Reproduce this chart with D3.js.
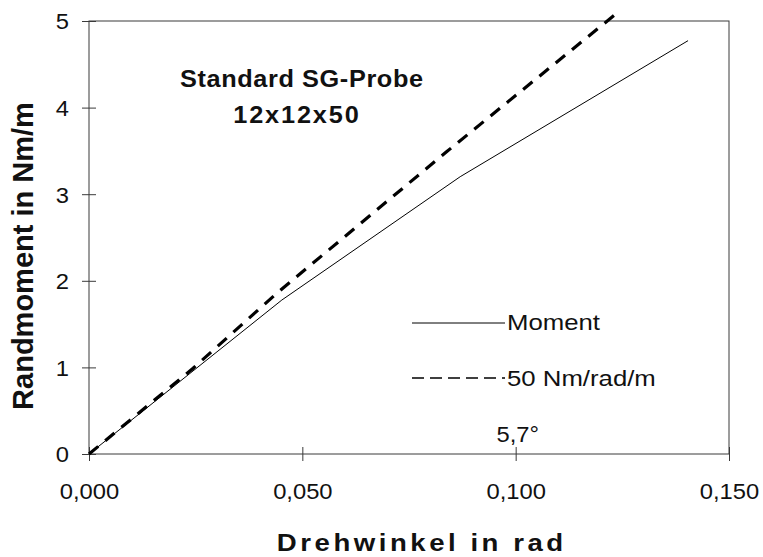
<!DOCTYPE html>
<html>
<head>
<meta charset="utf-8">
<script src="https://cdn.jsdelivr.net/npm/d3@7"></script>
<style>
  html, body { margin: 0; padding: 0; background: #fff; }
  svg { display: block; }
</style>
</head>
<body>
<svg id="chart" width="763" height="557"></svg>
<script>
// Axis ticks and labels (German decimal comma)
const xTicks = [0, 0.05, 0.10, 0.15];
const xTickLabels = ["0,000", "0,050", "0,100", "0,150"];
const yTicks = [0, 1, 2, 3, 4, 5];
const yTickLabels = ["0", "1", "2", "3", "4", "5"];

// Measured edge moment over twist angle
const momentAngle = [0, 0.0452, 0.0870, 0.1404];
const momentValue = [0, 1.778, 3.202, 4.773];

// Reference stiffness line
const stiffAngle = [0, 0.0244, 0.0440, 0.0838, 0.1242];
const stiffValue = [0, 0.99, 1.856, 3.49, 5.11];

const seriesNames = ["Moment", "50 Nm/rad/m"];
const titleLines = ["Standard SG-Probe", "12x12x50"];
const markerAngle = 0.1;
const markerLabel = "5,7°";
const xTitle = "Drehwinkel in rad";
const yTitle = "Randmoment in Nm/m";

const FONT = "'Liberation Sans', Arial, Helvetica, sans-serif";
const svg = d3.select("#chart");

const x = d3.scaleLinear().domain([0, 0.15]).range([89, 729]);
const y = d3.scaleLinear().domain([0, 5]).range([454, 21]);

// plot frame
svg.append("rect")
  .attr("x", x(0)).attr("y", y(5))
  .attr("width", x(0.15) - x(0)).attr("height", y(0) - y(5))
  .attr("fill", "none").attr("stroke", "#3a3a3a").attr("stroke-width", 1);

// x axis with crossing ticks
const xAxis = svg.append("g")
  .attr("transform", `translate(0,${y(0)})`)
  .call(d3.axisBottom(x).tickValues(xTicks)
    .tickFormat((d, i) => xTickLabels[i]).tickSizeInner(7).tickSizeOuter(0));
xAxis.select(".domain").remove();
xAxis.selectAll(".tick line").attr("y1", -7).attr("y2", 7).attr("stroke", "#3a3a3a");
xAxis.selectAll(".tick text")
  .attr("y", 0).attr("dy", null)
  .attr("transform", "translate(0,45) scale(1.08,1)")
  .attr("fill", "#111")
  .style("font-family", FONT).style("font-size", "22px");

// y axis with crossing ticks
const yAxis = svg.append("g")
  .attr("transform", `translate(${x(0)},0)`)
  .call(d3.axisLeft(y).tickValues(yTicks)
    .tickFormat((d, i) => yTickLabels[i]).tickSizeInner(7).tickSizeOuter(0));
yAxis.select(".domain").remove();
yAxis.selectAll(".tick line").attr("x1", -7).attr("x2", 7).attr("stroke", "#3a3a3a");
yAxis.selectAll(".tick text")
  .attr("x", 0).attr("dy", "0.36em")
  .attr("transform", "translate(-20,0) scale(1.08,1)")
  .attr("fill", "#111")
  .style("font-family", FONT).style("font-size", "22px");

// series
const momentData = momentAngle.map((a, i) => [a, momentValue[i]]);
const stiffData = stiffAngle.map((a, i) => [a, stiffValue[i]]);
const line = d3.line().x(d => x(d[0])).y(d => y(d[1]));

svg.append("path").datum(stiffData)
  .attr("d", line).attr("fill", "none")
  .attr("stroke", "#000").attr("stroke-width", 3.2)
  .attr("stroke-dasharray", "12,9");

svg.append("path").datum(momentData)
  .attr("d", line).attr("fill", "none")
  .attr("stroke", "#000").attr("stroke-width", 1);

// helper for text
function addText(txt, px, py, o) {
  const t = svg.append("text")
    .attr("transform", `translate(${px},${py})${o.rotate ? " rotate(" + o.rotate + ")" : ""} scale(${o.sx || 1},1)`)
    .attr("text-anchor", o.anchor || "start")
    .attr("fill", "#111")
    .style("font-family", FONT)
    .style("font-size", o.size + "px")
    .style("font-weight", o.bold ? "bold" : "normal")
    .text(txt);
  if (o.len) t.attr("textLength", o.len).attr("lengthAdjust", "spacing");
  return t;
}

// title
addText(titleLines[0], 301.5, 87, { size: 23, bold: true, anchor: "middle", sx: 1.1, len: 221 });
addText(titleLines[1], 296, 122.5, { size: 23, bold: true, anchor: "middle", sx: 1.1, len: 114 });

// legend
const legX0 = 412, legX1 = 505;
svg.append("line").attr("x1", legX0).attr("x2", legX1).attr("y1", 323).attr("y2", 323)
  .attr("stroke", "#000").attr("stroke-width", 1);
addText(seriesNames[0], 507, 330, { size: 23, sx: 1.12 });
svg.append("line").attr("x1", legX0).attr("x2", legX1).attr("y1", 378).attr("y2", 378)
  .attr("stroke", "#000").attr("stroke-width", 1.5).attr("stroke-dasharray", "12,6");
addText(seriesNames[1], 507, 386, { size: 23, sx: 1.12 });

// angle annotation
addText(markerLabel, x(markerAngle) + 2, 442, { size: 22, anchor: "middle", sx: 1.08 });

// axis titles
addText(xTitle, 420, 551, { size: 24, bold: true, anchor: "middle", sx: 1.15, len: 249 });
addText(yTitle, 33, 256, { size: 29, bold: true, anchor: "middle", rotate: -90 });
</script>
</body>
</html>
